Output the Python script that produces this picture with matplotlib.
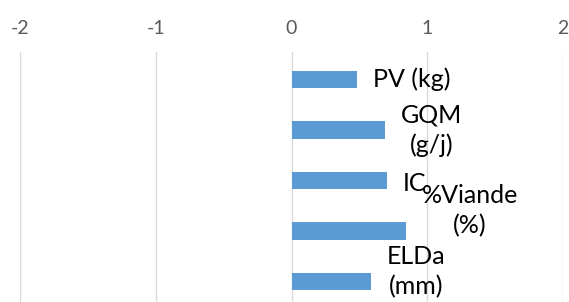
import matplotlib.pyplot as plt

categories = ["PV (kg)", "GQM\n(g/j)", "IC", "%Viande\n(%)", "ELDa\n(mm)"]
values = [0.48, 0.69, 0.70, 0.84, 0.585]
ticks = [-2, -1, 0, 1, 2]

# label nudges in pixels (Excel moved some labels up)
label_dy = [0, 0, -3, 20, 10]

plt.rcParams["font.family"] = ["Lato", "DejaVu Sans"]

fig = plt.figure(figsize=(5.69, 3.02), dpi=100)
ax = fig.add_axes([20 / 569, 0.0, 543 / 569, 1 - 52 / 302])

pos = list(range(len(categories)))
ax.barh(pos, values, height=0.35, color="#5b9bd5", zorder=3)

ax.set_xlim(-2, 2)
ax.set_ylim(4.406, -0.545)
ax.set_xticks(ticks)
ax.set_xticklabels([str(t) for t in ticks])
ax.set_yticks([])
ax.xaxis.tick_top()
ax.tick_params(axis="x", length=0, pad=11, labelsize=14, labelcolor="#595959")
ax.grid(axis="x", color="#d9d9d9", linewidth=1, zorder=0)
for s in ax.spines.values():
    s.set_visible(False)

for p, v, lab, dy in zip(pos, values, categories, label_dy):
    ax.annotate(lab, (v, p), xytext=(11.5, dy * 0.72), textcoords="offset points",
                ha="left", va="center", fontsize=18, color="#000000",
                multialignment="center", linespacing=1.35, annotation_clip=False)

fig.savefig("out.png", dpi=100)
